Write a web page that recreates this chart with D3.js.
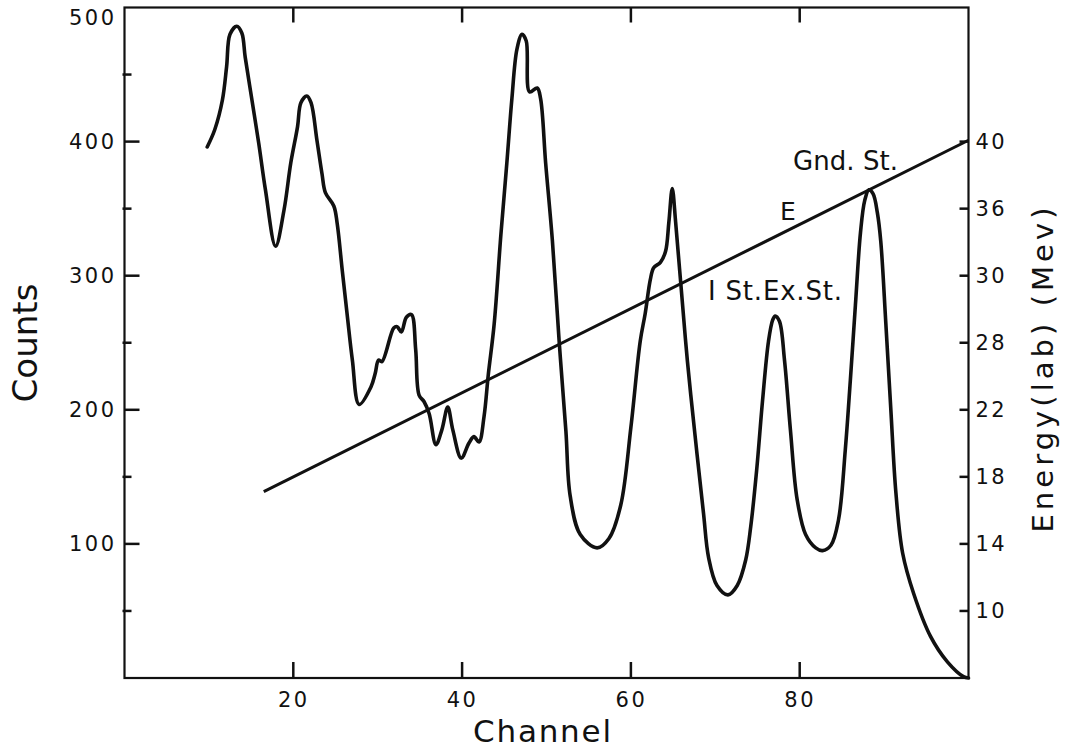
<!DOCTYPE html>
<html>
<head>
<meta charset="utf-8">
<script src="https://cdn.jsdelivr.net/npm/d3@7"></script>
<style>
  body { margin: 0; background: #fff; }
  text { font-family: "DejaVu Sans", sans-serif; fill: #111; }
</style>
</head>
<body>
<script>
// ---------- data ----------
const channel = [9.8,10.7,11.6,12.1,12.5,13.3,13.9,14.3,15.1,15.9,16.7,17.9,18.9,19.7,20.5,20.9,21.6,22.1,22.8,23.4,23.8,24.8,25.2,25.8,26.4,27.0,27.8,29.2,29.7,30.1,30.5,31.9,32.3,32.8,33.4,34.0,34.5,34.9,35.5,36.1,36.9,37.6,38.3,38.9,39.9,40.8,41.4,42.0,42.6,43.1,43.8,44.6,45.3,45.9,46.5,47.1,47.6,48.0,48.9,49.3,49.9,50.7,51.5,52.3,52.8,54.0,56.0,57.4,58.8,60.0,61.1,61.7,62.3,62.7,63.5,64.1,64.5,64.9,65.3,65.9,66.7,67.7,68.6,69.2,70.2,71.5,72.6,73.6,74.2,74.9,75.6,76.3,76.8,77.1,77.6,78.2,78.9,79.7,80.7,81.9,82.7,83.7,84.6,85.4,86.0,86.6,87.2,87.7,88.2,88.7,89.2,89.6,90.2,90.8,91.4,92.2,93.5,95.5,97.5,99.4,100];
const counts  = [396,409,431,456,480,486,481,463,431,399,364,322,349,384,411,429,434,429,401,376,362,352,339,304,270,237,204,217,227,237,236,261,262,258,269,271,245,211,206,197,174,185,202,185,164,175,180,176,195,226,264,331,384,432,469,480,475,437,440,432,384,326,251,184,136,107,97,104,129,187,251,272,297,306,310,318,340,365,340,295,236,175,123,90,69,62,69,88,113,155,207,251,267,270,266,237,185,133,107,97,95,99,118,170,222,278,332,356,364,361,347,326,265,200,138,93,63,31,12,1,0];

const energyLineChannel = [16.5, 100];
const energyLineCounts  = [139, 401];

const channelTicks = [20, 40, 60, 80];
const countTicks = [100, 200, 300, 400, 500];
const countMinorTicks = [50, 150, 250, 350, 450];
const energyTickLabels = ["10", "14", "18", "22", "28", "30", "36", "40"];

// ---------- layout ----------
const W = 1070, H = 748;
const svg = d3.select("body").append("svg").attr("width", W).attr("height", H);

const x = d3.scaleLinear().domain([0, 100]).range([124.5, 968.5]);
const y = d3.scaleLinear().domain([0, 500]).range([678, 7.5]);
const yE = d3.scalePoint().domain(energyTickLabels).range([y(50), y(400)]).padding(0);

const ink = "#111";

// frame
svg.append("rect")
  .attr("x", x(0)).attr("y", y(500))
  .attr("width", x(100) - x(0)).attr("height", y(0) - y(500))
  .attr("fill", "none").attr("stroke", ink).attr("stroke-width", 2.2);

function tickLabels(g) {
  g.select(".domain").remove();
  g.selectAll(".tick line").remove();
  g.selectAll(".tick text")
    .style("font-family", "'DejaVu Sans', sans-serif")
    .style("font-size", "21px")
    .style("letter-spacing", "2.5px")
    .attr("fill", ink);
}

// axis labels
svg.append("g").attr("transform", `translate(0,${y(0)})`)
  .call(d3.axisBottom(x).tickValues(channelTicks).tickSize(0).tickPadding(14))
  .call(tickLabels);
const gl = svg.append("g").attr("transform", `translate(${x(0)},0)`)
  .call(d3.axisLeft(y).tickValues(countTicks).tickSize(0).tickPadding(8))
  .call(tickLabels);
gl.selectAll(".tick text").filter(d => d === 500).attr("y", 10.5);
svg.append("g").attr("transform", `translate(${x(100)},0)`)
  .call(d3.axisRight(yE).tickSize(0).tickPadding(7))
  .call(tickLabels);

// energy line
const eData = energyLineChannel.map((c, i) => [c, energyLineCounts[i]]);
svg.append("path")
  .datum(eData)
  .attr("d", d3.line().x(d => x(d[0])).y(d => y(d[1])))
  .attr("fill", "none").attr("stroke", ink).attr("stroke-width", 3);

// spectrum
const spec = channel.map((c, i) => [c, counts[i]]);
svg.append("path")
  .datum(spec)
  .attr("d", d3.line().x(d => x(d[0])).y(d => y(d[1])).curve(d3.curveCatmullRom.alpha(0.5)))
  .attr("fill", "none").attr("stroke", ink).attr("stroke-width", 3.6)
  .attr("stroke-linejoin", "round").attr("stroke-linecap", "round");

// tick marks (inward), positioned through the scales
const tg = svg.append("g").attr("stroke", ink).attr("stroke-width", 2.5);
tg.selectAll("line.bt").data(channelTicks).join("line").attr("class", "bt")
  .attr("x1", d => x(d)).attr("x2", d => x(d)).attr("y1", y(0)).attr("y2", y(0) - 16);
tg.selectAll("line.tt").data(channelTicks).join("line").attr("class", "tt")
  .attr("x1", d => x(d)).attr("x2", d => x(d)).attr("y1", y(500)).attr("y2", y(500) + 15);
tg.selectAll("line.lt").data(countTicks.filter(d => d < 500)).join("line").attr("class", "lt")
  .attr("x1", x(0)).attr("x2", x(0) + 15).attr("y1", d => y(d)).attr("y2", d => y(d));
tg.selectAll("line.lm").data(countMinorTicks).join("line").attr("class", "lm")
  .attr("x1", x(0) - 2).attr("x2", x(0) + 7).attr("y1", d => y(d)).attr("y2", d => y(d));
tg.selectAll("line.rt").data(energyTickLabels).join("line").attr("class", "rt")
  .attr("x1", x(100) - 9).attr("x2", x(100)).attr("y1", d => yE(d)).attr("y2", d => yE(d));

// annotations
svg.append("text").attr("x", 793).attr("y", 170)
  .style("font-size", "26px").attr("textLength", 105).attr("lengthAdjust", "spacing")
  .text("Gnd. St.");
svg.append("text").attr("x", 780).attr("y", 220)
  .style("font-size", "25px").text("E");
svg.append("text").attr("x", 708).attr("y", 300)
  .style("font-size", "26px").attr("textLength", 134).attr("lengthAdjust", "spacing")
  .text("I St.Ex.St.");

// axis titles
svg.append("text")
  .attr("transform", "translate(542,742)")
  .attr("text-anchor", "middle")
  .style("font-size", "31px")
  .attr("textLength", 138).attr("lengthAdjust", "spacing")
  .text("Channel");

svg.append("text")
  .attr("transform", "translate(37,343) rotate(-90)")
  .attr("text-anchor", "middle")
  .style("font-size", "34px")
  .attr("textLength", 119).attr("lengthAdjust", "spacingAndGlyphs")
  .text("Counts");

svg.append("text")
  .attr("transform", "translate(1053,370) rotate(-90)")
  .attr("text-anchor", "middle")
  .style("font-size", "29px")
  .attr("textLength", 325).attr("lengthAdjust", "spacing")
  .text("Energy(lab) (Mev)");
</script>
</body>
</html>
